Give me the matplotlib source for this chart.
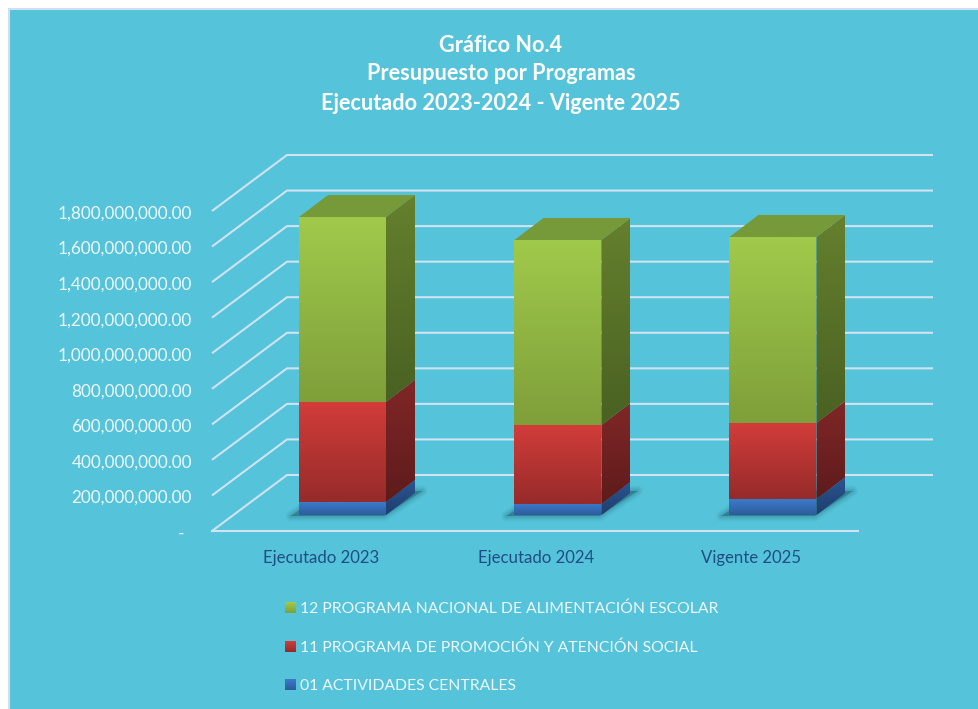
import matplotlib
matplotlib.use('Agg')

import numpy as np
import matplotlib.pyplot as plt
from matplotlib.patches import Polygon, Rectangle

plt.rcParams['font.family'] = ['Lato', 'DejaVu Sans']

# data
categories = ['Ejecutado 2023', 'Ejecutado 2024', 'Vigente 2025']
actividades = [73e6, 62e6, 90e6]
promocion = [563e6, 444e6, 428e6]
alimentacion = [1040e6, 1041e6, 1046e6]
series_names = ['01 ACTIVIDADES CENTRALES',
                '11 PROGRAMA DE PROMOCIÓN Y ATENCIÓN SOCIAL',
                '12 PROGRAMA NACIONAL DE ALIMENTACIÓN ESCOLAR']
ticks = np.arange(0, 1.8e9 + 1, 2e8)
title_lines = ['Gráfico No.4', 'Presupuesto por Programas', 'Ejecutado 2023-2024 - Vigente 2025']

# colours: top of gradient, bottom of gradient
front_cols = [('#3c7aca', '#2d5c9c'), ('#d23d3a', '#962b2a'), ('#a0ca4b', '#7f9f3a')]
side_cols = [('#2a5592', '#1f3e6c'), ('#812727', '#5e1b1b'), ('#65802e', '#4a6122')]
top_col = '#76993a'
bg = '#55c3d9'
grid_col = '#cfe3f2'

# oblique frame, in pixels of the figure
x_front, x_right = 212, 858
y_zero, px_per_val = 531, 320 / 1.8e9
depth_x, depth_y = 75, 56
bar_w, bar_dx, bar_dy = 87, 29, 22
bar_lift = 16
bar_left = [299, 514.5, 729.5]


def val_y(v):
    return y_zero - v * px_per_val


def gradient(ax, pts, c_top, c_bot):
    pts = np.array(pts)
    c0 = np.array(matplotlib.colors.to_rgb(c_top))
    c1 = np.array(matplotlib.colors.to_rgb(c_bot))
    t = np.linspace(0, 1, 64)[:, None]
    img = (c0 * (1 - t) + c1 * t)[:, None, :]
    im = ax.imshow(img, extent=(pts[:, 0].min(), pts[:, 0].max(), pts[:, 1].max(), pts[:, 1].min()),
                   aspect='auto', zorder=4, interpolation='bilinear')
    im.set_clip_path(Polygon(pts, closed=True, transform=ax.transData))


fig = plt.figure(figsize=(9.79, 7.09), dpi=100, facecolor='white')
ax = fig.add_axes([0, 0, 1, 1])
ax.set_xlim(0, 979)
ax.set_ylim(709, 0)
ax.axis('off')

ax.add_patch(Rectangle((9, 9), 975, 705, facecolor=bg, edgecolor='#cfdff0', linewidth=1.5, zorder=0))

# grid walls
for v in ticks:
    y = val_y(v)
    ax.plot([x_front, x_front + depth_x, x_right + depth_x],
            [y, y - depth_y, y - depth_y], color=grid_col, lw=1.5, zorder=1, solid_capstyle='butt')
    label = '-' if v == 0 else f'{v:,.2f}'
    ax.text(192 if v else 184, y + 2.5, label, ha='right', va='center', fontsize=12.3, color='#eef8fb')
ax.plot([x_front, x_right], [y_zero, y_zero], color=grid_col, lw=1.5, zorder=1)

# bars
stack = np.array([actividades, promocion, alimentacion])
bottoms = np.vstack([np.zeros(3), np.cumsum(stack, axis=0)[:-1]])
for i, cat in enumerate(categories):
    x0 = bar_left[i]
    x1 = x0 + bar_w
    # soft shadow on the floor
    yb = y_zero - bar_lift
    shadow = [(x0 - 8, yb + 1), (x1 - 2, yb + 1), (x1 + bar_dx + 7, yb - bar_dy - 2), (x0 + bar_dx, yb - bar_dy - 2)]
    for lw, a in [(8, 0.03), (6, 0.05), (4, 0.07), (2, 0.09), (0, 0.12)]:
        ax.add_patch(Polygon(shadow, closed=True, facecolor='#0d3b4a', edgecolor='#0d3b4a', lw=lw,
                             alpha=a, zorder=2, joinstyle='round'))
    for s in range(3):
        y_low = val_y(bottoms[s, i]) - bar_lift
        y_high = val_y(bottoms[s, i] + stack[s, i]) - bar_lift
        gradient(ax, [(x0, y_high), (x1, y_high), (x1, y_low), (x0, y_low)], *front_cols[s])
        gradient(ax, [(x1, y_high), (x1 + bar_dx, y_high - bar_dy), (x1 + bar_dx, y_low - bar_dy), (x1, y_low)],
                 *side_cols[s])
    ax.add_patch(Polygon([(x0, y_high), (x0 + bar_dx, y_high - bar_dy), (x1 + bar_dx, y_high - bar_dy), (x1, y_high)],
                         closed=True, facecolor=top_col, edgecolor='none', zorder=5))
    ax.text(x0 + bar_w / 2 - 21.5, 558, cat, ha='center', va='center', fontsize=12.1, color='#1f4e85')

# legend
for s, y in zip([2, 1, 0], [607, 646, 684]):
    gradient(ax, [(285, y - 5), (296, y - 5), (296, y + 6), (285, y + 6)], *front_cols[s])
    ax.text(300, y + 1.5, series_names[s], ha='left', va='center', fontsize=11.35, color='#eef8fb')

# title
for line, y in zip(title_lines, [45, 74, 104]):
    ax.text(501, y, line, ha='center', va='center', fontsize=15.6, fontweight='bold', color='white')

ax.set_xlim(0, 979)
ax.set_ylim(709, 0)
fig.savefig('out.png', dpi=100)
plt.close(fig)
